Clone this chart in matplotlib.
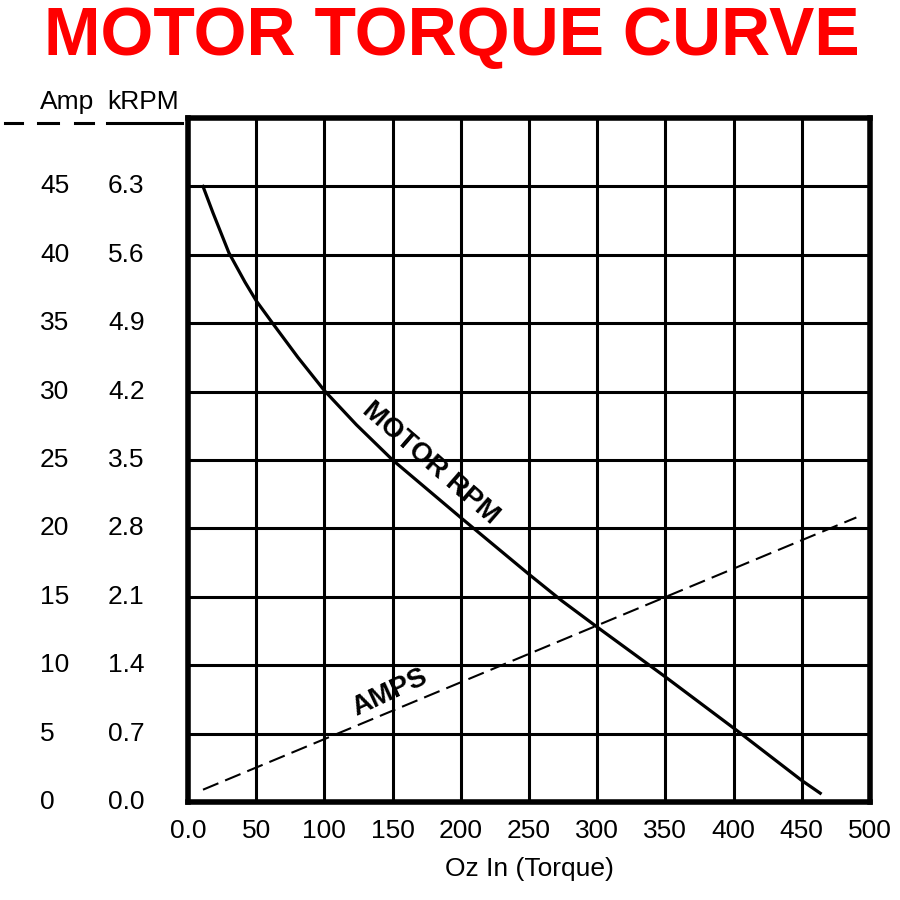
import numpy as np
import matplotlib.pyplot as plt
import matplotlib.transforms as mtransforms

# data
torque_rpm = [11, 18.3, 30, 41.8, 50, 62, 80.6, 100, 123.5, 150, 200, 250, 274, 300,
              350, 403.5, 450, 463.5]
krpm = [6.30, 6.03, 5.62, 5.32, 5.13, 4.90, 4.55, 4.21, 3.86, 3.50, 2.91, 2.33, 2.06, 1.79,
        1.28, 0.72, 0.22, 0.09]
torque_amps = [11, 490]
amps = [0.9, 20.8]

amp_ticks = [0, 5, 10, 15, 20, 25, 30, 35, 40, 45]
krpm_ticks = ["0.0", "0.7", "1.4", "2.1", "2.8", "3.5", "4.2", "4.9", "5.6", "6.3"]
x_ticks = [0, 50, 100, 150, 200, 250, 300, 350, 400, 450, 500]
x_tick_labels = ["0.0"] + [str(v) for v in x_ticks[1:]]

KRPM_PER_AMP = 0.14  # 7.0 kRPM shares the 50 A grid line
FS = 19

plt.rcParams['font.family'] = ['Liberation Sans', 'DejaVu Sans']

fig = plt.figure(figsize=(9, 9), dpi=100)
ax = fig.add_axes([188 / 900, 98 / 900, 682 / 900, 684 / 900])
ax.set_xlim(0, 500)
ax.set_ylim(0, 50)

ax.set_xticks(x_ticks)
ax.set_xticklabels(x_tick_labels, fontsize=FS)
ax.set_yticks(np.arange(0, 51, 5))
ax.set_yticklabels([])
ax.tick_params(length=0, pad=12)
ax.grid(True, color='black', linewidth=2.2)
ax.set_axisbelow(True)
for s in ax.spines.values():
    s.set_linewidth(4)

rpm_y = np.array(krpm) / KRPM_PER_AMP
ax.plot(torque_rpm, rpm_y, color='black', linewidth=2.3, zorder=3,
        solid_joinstyle='round')
ax.plot(torque_amps, amps, color='black', linewidth=1.5, dashes=(8, 3.5), zorder=3)

ax.text(177.6, 24.8, "MOTOR RPM", rotation=-41, fontsize=20, fontweight='heavy',
        ha='center', va='center', rotation_mode='anchor', zorder=4)
ax.text(148, 8.0, "AMPS", rotation=25, fontsize=20, fontweight='heavy',
        ha='center', va='center', rotation_mode='anchor', zorder=4)

ax.set_xlabel("Oz In (Torque)", fontsize=FS, labelpad=10)

# left-hand dual scale
trans = mtransforms.blended_transform_factory(fig.transFigure, ax.transData)
for a, k in zip(amp_ticks, krpm_ticks):
    ax.text(40 / 900, a, str(a), transform=trans, fontsize=FS, ha='left', va='center')
    ax.text(108 / 900, a, k, transform=trans, fontsize=FS, ha='left', va='center')

fig.text(40 / 900, 1 - 102 / 900, "Amp", fontsize=FS, ha='left', va='center')
fig.text(107 / 900, 1 - 102 / 900, "kRPM", fontsize=FS, ha='left', va='center')
yl = 1 - 123 / 900
for x0, x1 in [(5, 22), (38, 58), (75, 93)]:
    fig.add_artist(plt.Line2D([x0 / 900, x1 / 900], [yl, yl], color='black', linewidth=2.2))
fig.add_artist(plt.Line2D([107 / 900, 182 / 900], [yl, yl], color='black', linewidth=2.2))

fig.text(452 / 900, 1 - 37 / 900, "MOTOR TORQUE CURVE", color='#ff0000', fontsize=49,
         family=['Liberation Sans Narrow', 'Liberation Sans'],
         fontweight='bold', ha='center', va='center')

fig.savefig("out.png", dpi=100)
